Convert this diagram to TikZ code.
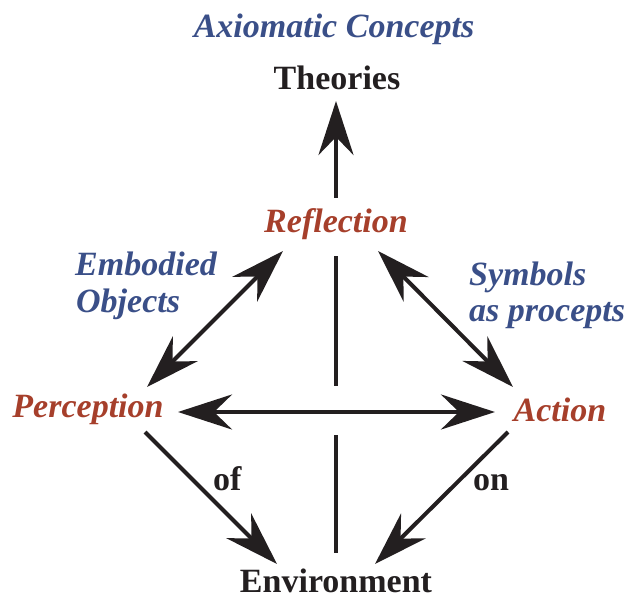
\documentclass[tikz,border=0pt]{standalone}
\usepackage{fontspec}
\setmainfont{Liberation Serif}
\usetikzlibrary{arrows.meta}
\definecolor{cblue}{HTML}{3A4F88}
\definecolor{cred}{HTML}{A63F2B}
\definecolor{cdark}{HTML}{231F20}
\begin{document}
\begin{tikzpicture}[x=1pt,y=-1pt,
  lbl/.style={inner sep=0pt, anchor=base, font=\fontsize{34}{40}\selectfont\bfseries, text=cdark},
  bluelbl/.style={lbl, font=\fontsize{34}{40}\selectfont\bfseries\itshape, text=cblue},
  redlbl/.style={lbl, font=\fontsize{34}{40}\selectfont\bfseries\itshape, text=cred},
  conn/.style={draw=cdark, line width=4pt},
  tip/.style={-{Stealth[length=54pt,width=35pt,inset=18pt]}},
  tips/.style={{Stealth[length=54pt,width=35pt,inset=18pt]}-{Stealth[length=54pt,width=35pt,inset=18pt]}}
]
\useasboundingbox (0,0) rectangle (627,599);
% labels
\node[bluelbl] (axio) at (334,38) {Axiomatic Concepts};
\node[lbl] (theo) at (337,90) {Theories};
\node[redlbl] (refl) at (336,233) {Reflection};
\node[redlbl] (perc) at (88,417) {Perception};
\node[redlbl] (act) at (560,421) {Action};
\node[lbl] (env) at (336,592) {Environment};
\node[bluelbl, anchor=base west] (emb1) at (75,275) {Embodied};
\node[bluelbl, anchor=base west] (emb2) at (76,312) {Objects};
\node[bluelbl, anchor=base west] (sym1) at (469,285) {Symbols};
\node[bluelbl, anchor=base west] (sym2) at (469,321) {as procepts};
\node[lbl, anchor=base west] (of) at (213,490) {of};
\node[lbl, anchor=base west] (on) at (473,490) {on};
% connector ends
\coordinate (reflU) at (336,198);
\coordinate (theoD) at (336,101);
\coordinate (reflD) at (336,256);
\coordinate (midU) at (336,386);
\coordinate (midD) at (336,435);
\coordinate (envU) at (336,553);
\coordinate (reflL) at (283,251);
\coordinate (percU) at (147,387);
\coordinate (reflR) at (378,251);
\coordinate (actU) at (513,387);
\coordinate (percR) at (178,412);
\coordinate (actL) at (495,412);
\coordinate (percD) at (145,432);
\coordinate (envL) at (277,564);
\coordinate (actD) at (508,432);
\coordinate (envR) at (375,564);
% connectors
\draw[conn, tip] (reflU) -- (theoD);
\draw[conn] (reflD) -- (midU);
\draw[conn] (midD) -- (envU);
\draw[conn, tips] (reflL) -- (percU);
\draw[conn, tips] (reflR) -- (actU);
\draw[conn, tips] (percR) -- (actL);
\draw[conn, tip] (percD) -- (envL);
\draw[conn, tip] (actD) -- (envR);
\end{tikzpicture}
\end{document}
